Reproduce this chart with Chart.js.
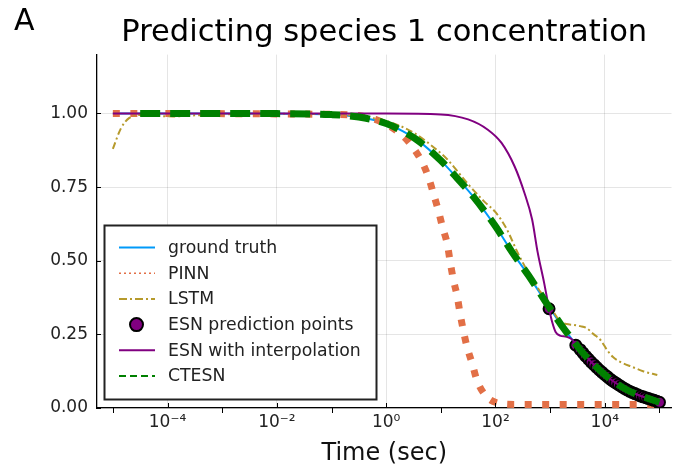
<!DOCTYPE html>
<html>
<head>
<meta charset="utf-8">
<script src="https://cdn.jsdelivr.net/npm/chart.js@4/dist/chart.umd.min.js"></script>
<style>
  html, body { margin: 0; padding: 0; background: #fff; }
</style>
</head>
<body>
<canvas id="chart" width="679" height="469"></canvas>
<script>
const FONT = '"DejaVu Sans", sans-serif';
const GRID = 'rgba(0,0,0,0.1)';

// species 1 concentration vs time (sec)
const truthT = [1e-5, 1e-4, 1e-3, 0.01, 0.1, 0.316, 1, 2, 4, 10, 20, 40, 100, 200, 400, 1000, 1585, 2512, 3981, 6310, 1e4, 15850, 25120, 39810, 63100, 1e5];
const truthY = [1.0, 1.0, 1.0, 0.9996, 0.9962, 0.988, 0.966, 0.94, 0.9055, 0.84, 0.78, 0.716, 0.617, 0.53, 0.4505, 0.337, 0.283, 0.233, 0.187, 0.147, 0.113, 0.085, 0.062, 0.045, 0.032, 0.0195];

const pinnT = [1e-5, 0.1, 0.631, 1.86, 3.09, 4.68, 6.03, 7.41, 9.12, 10.7, 13.2, 14.8, 17.0, 20.0, 22.4, 25.7, 30.2, 37.2, 45.7, 64.6, 110, 224, 1000, 1e4, 1e5];
const pinnY = [1.0, 0.997, 0.98, 0.93, 0.885, 0.83, 0.78, 0.725, 0.667, 0.615, 0.555, 0.497, 0.435, 0.378, 0.323, 0.265, 0.207, 0.153, 0.095, 0.044, 0.017, 0.012, 0.012, 0.012, 0.012];

const lstmT = [1e-5, 1.41e-5, 2e-5, 3.16e-5, 6.31e-5, 1.26e-4, 2.51e-4, 5.01e-4, 1e-3, 0.01, 0.1, 0.316, 1, 3.16, 10, 13.2, 31.6, 63.1, 100, 158, 251, 398, 631, 871, 1122, 1549, 1995, 2692, 3548, 4571, 6310, 8318, 11220, 14130, 19950, 32360, 50120, 91200];
const lstmY = [0.88, 0.95, 0.985, 0.995, 0.992, 0.99, 0.993, 0.995, 0.997, 0.999, 0.998, 0.99, 0.975, 0.935, 0.865, 0.844, 0.76, 0.70, 0.665, 0.61, 0.53, 0.46, 0.40, 0.367, 0.33, 0.293, 0.285, 0.282, 0.278, 0.272, 0.25, 0.231, 0.195, 0.173, 0.155, 0.139, 0.125, 0.112];

const esnPtsT = [955, 2951, 3548, 3981, 4467, 5012, 5623, 6310, 7079, 7943, 8913, 1e4, 11220, 12590, 14130, 15850, 17780, 19950, 22390, 25120, 28180, 31620, 35480, 39810, 44670, 50120, 56230, 63100, 70790, 79430, 89130, 1e5];
const esnPtsY = [0.337, 0.213, 0.198, 0.187, 0.176, 0.166, 0.156, 0.147, 0.138, 0.129, 0.121, 0.113, 0.106, 0.098, 0.091, 0.085, 0.079, 0.073, 0.067, 0.062, 0.057, 0.053, 0.049, 0.045, 0.041, 0.038, 0.035, 0.032, 0.029, 0.026, 0.023, 0.0195];

const esnLineT = [1e-5, 1, 10, 31.6, 72.4, 129, 224, 339, 468, 589, 776, 955, 1096, 1259, 1514, 1995, 2512, 2951, 3981, 6310, 1e4, 15850, 25120, 39810, 63100, 1e5];
const esnLineY = [1.0, 1.0, 0.997, 0.98, 0.945, 0.9, 0.82, 0.73, 0.64, 0.53, 0.425, 0.337, 0.29, 0.258, 0.246, 0.242, 0.233, 0.213, 0.187, 0.147, 0.113, 0.085, 0.062, 0.045, 0.032, 0.0195];

const ctesnT = [3.16e-5, 1e-4, 1e-3, 0.01, 0.1, 0.316, 1, 2, 4, 10, 20, 40, 100, 200, 400, 1000, 1585, 2512, 3981, 6310, 1e4, 15850, 25120, 39810, 63100, 1e5];
const ctesnY = [1.0, 1.0, 1.0, 0.9996, 0.9962, 0.988, 0.966, 0.94, 0.9055, 0.84, 0.78, 0.716, 0.617, 0.53, 0.4505, 0.337, 0.283, 0.233, 0.187, 0.147, 0.113, 0.085, 0.062, 0.045, 0.032, 0.0195];

const xPowers = [-5, -4, -3, -2, -1, 0, 1, 2, 3, 4, 5];
const yTicks = [0, 0.25, 0.5, 0.75, 1.0];

const SUP = { '-': '\u207B', '0': '\u2070', '1': '\u00B9', '2': '\u00B2', '3': '\u00B3', '4': '\u2074', '5': '\u2075' };
const powLabel = p => '10' + String(p).split('').map(c => SUP[c]).join('');

const pts = (ts, ys) => ts.map((t, i) => ({ x: t, y: ys[i] }));

const lineBase = { pointRadius: 0, fill: false, cubicInterpolationMode: 'monotone' };

const datasets = [
  { ...lineBase, label: 'ground truth', data: pts(truthT, truthY), borderColor: '#009af9', borderWidth: 2, order: 6, keyWidth: 2 },
  { ...lineBase, label: 'PINN', data: pts(pinnT, pinnY), borderColor: '#e26f46', borderWidth: 7, borderDash: [7, 10.5], order: 5, keyWidth: 1.5, keyDash: [2, 3] },
  { ...lineBase, label: 'LSTM', data: pts(lstmT, lstmY), borderColor: '#b69a2c', borderWidth: 2, borderDash: [7, 3, 2, 3], order: 4, keyWidth: 2, keyDash: [8, 3, 2, 3] },
  { label: 'ESN prediction points', data: pts(esnPtsT, esnPtsY), showLine: false, pointRadius: 5.5, pointBackgroundColor: '#800080', pointBorderColor: '#000', pointBorderWidth: 2, order: 3 },
  { ...lineBase, label: 'ESN with interpolation', data: pts(esnLineT, esnLineY), borderColor: '#800080', borderWidth: 2, order: 2, keyWidth: 2 },
  { ...lineBase, label: 'CTESN', data: pts(ctesnT, ctesnY), borderColor: '#008000', borderWidth: 7, borderDash: [20, 10], order: 1, keyWidth: 2, keyDash: [7, 4] }
];

// tick marks, panel letter and the boxed legend
const decorations = {
  id: 'decorations',
  afterDraw(chart) {
    const { ctx, chartArea: a, scales: { x, y } } = chart;
    ctx.save();
    ctx.strokeStyle = '#000';
    ctx.lineWidth = 1;
    xPowers.forEach(p => {
      const px = Math.round(x.getPixelForValue(Math.pow(10, p))) + 0.5;
      ctx.beginPath();
      if (p % 2 === 0) { ctx.moveTo(px, a.bottom); ctx.lineTo(px, a.bottom - 5); }
      else { ctx.moveTo(px, a.bottom); ctx.lineTo(px, a.bottom + 5); }
      ctx.stroke();
    });
    yTicks.forEach(v => {
      const py = Math.round(y.getPixelForValue(v)) + 0.5;
      ctx.beginPath();
      ctx.moveTo(a.left, py);
      ctx.lineTo(a.left + 4, py);
      ctx.stroke();
    });

    // panel letter
    ctx.fillStyle = '#000';
    ctx.font = '30px ' + FONT;
    ctx.textBaseline = 'alphabetic';
    ctx.textAlign = 'left';
    ctx.fillText('A', 14, 30);

    // legend
    const bx = 104.5, by = 225.5, bw = 272, bh = 174;
    ctx.fillStyle = '#fff';
    ctx.fillRect(bx, by, bw, bh);
    ctx.strokeStyle = '#222';
    ctx.lineWidth = 2;
    ctx.strokeRect(bx, by, bw, bh);
    ctx.font = '17.3px ' + FONT;
    ctx.textBaseline = 'middle';
    chart.data.datasets.forEach((ds, i) => {
      const ry = 247.5 + i * 25.7;
      if (ds.showLine === false) {
        ctx.beginPath();
        ctx.arc(136.5, ry, 6.5, 0, Math.PI * 2);
        ctx.fillStyle = ds.pointBackgroundColor;
        ctx.fill();
        ctx.lineWidth = 2;
        ctx.strokeStyle = ds.pointBorderColor;
        ctx.setLineDash([]);
        ctx.stroke();
      } else {
        ctx.beginPath();
        ctx.setLineDash(ds.keyDash || []);
        ctx.strokeStyle = ds.borderColor;
        ctx.lineWidth = ds.keyWidth;
        ctx.moveTo(119, ry);
        ctx.lineTo(155, ry);
        ctx.stroke();
        ctx.setLineDash([]);
      }
      ctx.fillStyle = '#222';
      ctx.fillText(ds.label, 168, ry + 1);
    });
    ctx.restore();
  }
};

new Chart(document.getElementById('chart'), {
  type: 'line',
  data: { datasets },
  options: {
    responsive: false,
    animation: false,
    events: [],
    layout: { padding: 0 },
    plugins: {
      legend: { display: false },
      tooltip: { enabled: false },
      title: {
        display: true,
        fullSize: false,
        text: 'Predicting species 1 concentration',
        color: '#000',
        font: { family: FONT, size: 30.5, weight: 'normal' },
        padding: { top: 15, bottom: 3 }
      }
    },
    scales: {
      x: {
        type: 'logarithmic',
        min: Math.pow(10, -5.29),
        max: Math.pow(10, 5.22),
        afterBuildTicks: s => { s.ticks = xPowers.map(p => ({ value: Math.pow(10, p), major: p % 2 === 0 })); },
        afterFit: s => { s.height = 61; },
        ticks: {
          autoSkip: false,
          maxRotation: 0,
          padding: 4,
          color: '#222',
          font: { family: FONT, size: 17 },
          callback: (v, i) => (xPowers[i] % 2 === 0 ? powLabel(xPowers[i]) : '')
        },
        grid: { drawTicks: false, color: c => (c.tick && c.tick.major ? GRID : 'rgba(0,0,0,0)') },
        border: { color: '#000', width: 1.3 },
        title: {
          display: true,
          text: 'Time (sec)',
          color: '#111',
          font: { family: FONT, size: 24 },
          padding: { top: 0, bottom: 1 }
        }
      },
      y: {
        min: 0,
        max: 1.2,
        afterBuildTicks: s => { s.ticks = yTicks.map(v => ({ value: v })); },
        afterFit: s => { s.width = 97; },
        ticks: {
          padding: 9,
          color: '#222',
          font: { family: FONT, size: 17 },
          callback: v => Number(v).toFixed(2)
        },
        grid: { drawTicks: false, color: GRID },
        border: { color: '#000', width: 1.3 }
      }
    }
  },
  plugins: [decorations]
});
</script>
</body>
</html>
